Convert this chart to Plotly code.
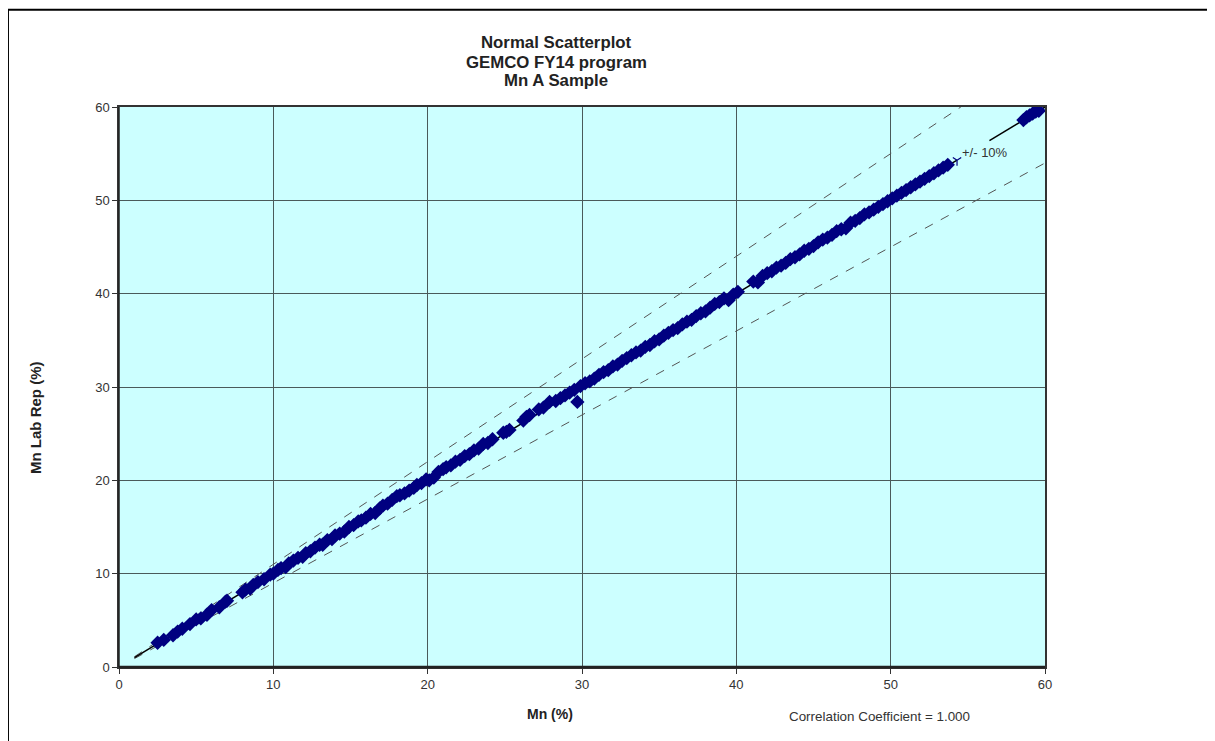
import plotly.graph_objects as go

# Data
mn = [2.5, 2.9, 3.5, 3.8, 4.1, 4.6, 5.0, 5.3, 5.7, 6.0, 6.5, 6.9, 7.0, 8.0, 8.2, 8.5, 8.7, 9.0, 9.4, 9.8,
      10.0, 10.3, 10.5, 10.8, 11.0, 11.3, 11.6, 11.9, 12.1, 12.4, 12.7, 13.0, 13.2, 13.5, 13.8, 14.0, 14.3, 14.6, 14.9,
      15.2, 15.5, 15.7, 16.0, 16.3, 16.6, 16.9, 17.1, 17.4, 17.7, 18.0, 18.2, 18.5, 18.8, 19.1, 19.3, 19.6, 19.9,
      20.1, 20.4, 20.7, 21.0, 21.2, 21.5, 21.8, 22.1, 22.4, 22.7, 23.0, 23.3, 23.6, 23.9, 24.2, 24.9, 25.1, 25.3,
      26.2, 26.4, 26.6, 27.2, 27.5, 27.9, 28.3, 28.6, 28.9, 29.2, 29.5, 29.7, 29.9, 30.2, 30.5, 30.8, 31.1, 31.4,
      31.7, 32.0, 32.3, 32.6, 32.9, 33.2, 33.5, 33.8, 34.1, 34.4, 34.7, 35.0, 35.3, 35.6, 35.9, 36.2, 36.5, 36.8,
      37.1, 37.4, 37.7, 38.0, 38.3, 38.6, 38.9, 39.2, 39.5, 39.8, 40.1, 41.1, 41.4, 41.7, 42.0, 42.3, 42.6, 42.9,
      43.2, 43.5, 43.8, 44.1, 44.4, 44.7, 45.0, 45.3, 45.6, 45.9, 46.2, 46.5, 46.8, 47.1, 47.4, 47.7, 48.0, 48.3,
      48.6, 48.9, 49.2, 49.5, 49.8, 50.1, 50.4, 50.7, 51.0, 51.3, 51.6, 51.9, 52.2, 52.5, 52.8, 53.1, 53.4, 53.7,
      58.6, 58.8, 59.0, 59.2, 59.4, 59.6]
mn_rep = [2.6, 2.9, 3.4, 3.8, 4.1, 4.6, 5.1, 5.2, 5.6, 6.1, 6.4, 7.0, 7.1, 8.0, 8.3, 8.4, 8.8, 9.1, 9.4, 9.9,
          10.0, 10.4, 10.6, 10.7, 11.1, 11.4, 11.7, 11.8, 12.2, 12.4, 12.8, 13.1, 13.1, 13.6, 13.7, 14.1, 14.3, 14.5, 15.0,
          15.2, 15.6, 15.7, 16.0, 16.4, 16.5, 17.0, 17.3, 17.5, 17.9, 18.3, 18.4, 18.6, 18.9, 19.2, 19.5, 19.7, 20.1,
          20.0, 20.3, 20.9, 21.2, 21.4, 21.6, 22.0, 22.2, 22.6, 22.8, 23.2, 23.4, 23.9, 24.0, 24.4, 25.1, 25.2, 25.4,
          26.4, 26.8, 27.0, 27.6, 27.8, 28.4, 28.5, 28.8, 29.1, 29.4, 29.7, 28.4, 30.1, 30.4, 30.6, 30.9, 31.3, 31.6,
          31.8, 32.2, 32.4, 32.8, 33.1, 33.4, 33.7, 33.9, 34.3, 34.5, 34.9, 35.1, 35.5, 35.8, 36.1, 36.3, 36.7, 37.0,
          37.2, 37.6, 37.9, 38.1, 38.5, 38.9, 39.1, 39.5, 39.3, 39.9, 40.2, 41.3, 41.2, 41.9, 42.2, 42.4, 42.8, 43.0,
          43.3, 43.7, 43.9, 44.2, 44.6, 44.8, 45.1, 45.5, 45.8, 46.0, 46.3, 46.7, 46.9, 47.0, 47.6, 47.8, 48.1, 48.5,
          48.7, 49.0, 49.3, 49.6, 49.9, 50.2, 50.5, 50.8, 51.1, 51.4, 51.7, 52.0, 52.3, 52.6, 52.9, 53.2, 53.5, 53.8,
          58.6, 58.9, 59.1, 59.3, 59.5, 59.6]

ref_x = [1, 54.3, None, 56.4, 60]
upper_x = [1, 54.55]
lower_x = [1, 60]
label_point = [54.3]

fig = go.Figure()

fig.add_trace(go.Scatter(x=upper_x, y=[v * 1.1 for v in upper_x], mode="lines",
                         line=dict(color="#555555", width=1, dash="dash"), hoverinfo="skip"))
fig.add_trace(go.Scatter(x=lower_x, y=[v * 0.9 for v in lower_x], mode="lines",
                         line=dict(color="#555555", width=1, dash="dash"), hoverinfo="skip"))
fig.add_trace(go.Scatter(x=ref_x, y=ref_x, mode="lines",
                         line=dict(color="black", width=1.5), hoverinfo="skip"))
fig.add_trace(go.Scatter(x=mn, y=mn_rep, mode="markers",
                         marker=dict(symbol="diamond", size=11, color="#000080", line=dict(width=0))))
fig.add_trace(go.Scatter(x=label_point, y=label_point, mode="markers",
                         marker=dict(symbol="y-down-open", size=7, color="#000080", line=dict(width=1.2, color="#000080"))))

axis_common = dict(range=[0, 60], dtick=10, showgrid=True, gridcolor="#4a5a5a", gridwidth=1,
                   showline=True, linecolor="#333333", linewidth=1.5, mirror=True,
                   ticks="outside", ticklen=5, tickcolor="#333333", zeroline=False,
                   tickfont=dict(family="Arial", size=13, color="#333333"))

fig.update_layout(
    width=1207, height=733,
    margin=dict(l=111, r=170, t=99, b=74),
    paper_bgcolor="white", plot_bgcolor="#CCFFFF",
    showlegend=False,
    xaxis=dict(**axis_common),
    yaxis=dict(**axis_common),
    font=dict(family="Arial", color="#222222"),
)

# Bottom/left thicker axis lines
fig.add_shape(type="line", xref="paper", yref="paper", x0=0, x1=1, y0=0, y1=0,
              line=dict(color="#222222", width=2.5))
fig.add_shape(type="line", xref="paper", yref="paper", x0=0, x1=0, y0=0, y1=1,
              line=dict(color="#222222", width=1.5))

# Outer frame (top and left edges visible)
fig.add_shape(type="line", xref="paper", yref="paper", x0=-0.1199, x1=1.19, y0=1.1735, y1=1.1735,
              line=dict(color="black", width=2))
fig.add_shape(type="line", xref="paper", yref="paper", x0=-0.1199, x1=-0.1199, y0=-0.14, y1=1.1735,
              line=dict(color="black", width=2))

title_lines = ["Normal Scatterplot", "GEMCO FY14 program", "Mn A Sample"]
for i, t in enumerate(title_lines):
    fig.add_annotation(text="<b>%s</b>" % t, xref="paper", yref="paper",
                       x=(556 - 119) / 926, y=(667 - (43 + 19 * i)) / 560, xanchor="center", yanchor="middle",
                       showarrow=False, font=dict(family="Arial", size=16.8, color="#222222"))

fig.add_annotation(text="<b>Mn (%)</b>", xref="paper", yref="paper", x=(550 - 119) / 926,
                   y=(667 - 714) / 560, xanchor="center", yanchor="middle", showarrow=False,
                   font=dict(family="Arial", size=14, color="#222222"))
fig.add_annotation(text="<b>Mn Lab Rep (%)</b>", xref="paper", yref="paper", x=(35 - 119) / 926,
                   y=(667 - 418) / 560, xanchor="center", yanchor="middle", showarrow=False, textangle=-90,
                   font=dict(family="Arial", size=15, color="#222222"))
fig.add_annotation(text="Correlation Coefficient = 1.000", xref="paper", yref="paper",
                   x=(879 - 119) / 926, y=(667 - 716) / 560, xanchor="center", yanchor="middle",
                   showarrow=False, font=dict(family="Arial", size=13.4, color="#333333"))
fig.add_annotation(text="+/- 10%", x=54.5, y=55.1, xanchor="left", yanchor="middle",
                   showarrow=False, font=dict(family="Arial", size=13, color="#333333"))

fig.write_html("out.html")
